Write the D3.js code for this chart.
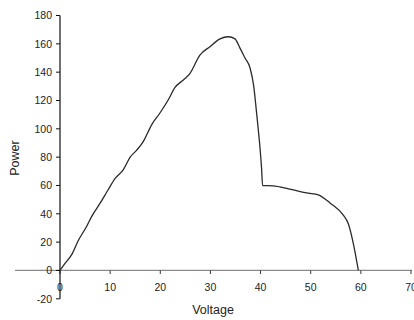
<!DOCTYPE html>
<html>
<head>
<meta charset="utf-8">
<script src="https://d3js.org/d3.v7.min.js"></script>
<style>
  body { margin: 0; background: #fff; }
  text { font-family: "Liberation Sans", Arial, sans-serif; fill: #222; }
</style>
</head>
<body>
<div class="container"></div>
<script>
// data
var voltage = [0, 1, 2.3, 3.7, 5.3, 6.3, 8, 9.6, 11, 12.6, 14, 15.3, 16.6, 18.3, 19.9,
  21.6, 22.9, 24.6, 25.9, 27.9, 29.9, 31.9, 33.6, 34.9, 35.9, 36.9, 37.9, 38.6, 39.1,
  39.5, 39.9, 40.2, 40.4, 42.5, 45.2, 47.9, 49.5, 51.5, 53.9, 56.5, 57.5, 58.5, 59.5];
var power = [0, 5, 11, 21.5, 31, 38, 47.5, 57, 65, 71, 80, 85, 91, 103, 111,
  120.5, 129, 134.5, 139, 152, 158, 163.5, 165, 163.5, 157, 150, 143, 131, 115,
  101, 86, 72, 60, 59.7, 58, 55.7, 54.6, 53.4, 47.5, 39, 33, 19, 0];

var xTicks = [0, 10, 20, 30, 40, 50, 60, 70];
var yTicks = [-20, 0, 20, 40, 60, 80, 100, 120, 140, 160, 180];

// svg container
var svgWidth = 414;
var svgHeight = 320;

var svg = d3.select(".container")
  .append("svg")
  .attr("width", svgWidth)
  .attr("height", svgHeight);

var xScale = d3.scaleLinear()
  .domain([0, 70])
  .range([60, 411]);

var yScale = d3.scaleLinear()
  .domain([-20, 180])
  .range([298.8, 15.5]);

var points = voltage.map((v, i) => ({ x: v, y: power[i] }));

// x axis sits on zero, stretched to the left like the original
var y0 = yScale(0);
svg.append("line")
  .attr("x1", 15)
  .attr("x2", 412)
  .attr("y1", y0)
  .attr("y2", y0)
  .attr("stroke", "#8a8a8a")
  .attr("stroke-width", 1.2);

svg.selectAll(".xtick")
  .data(xTicks)
  .enter()
  .append("line")
  .attr("x1", d => xScale(d))
  .attr("x2", d => xScale(d))
  .attr("y1", y0)
  .attr("y2", y0 + 3.5)
  .attr("stroke", "#333");

svg.selectAll(".xlabel")
  .data(xTicks)
  .enter()
  .append("text")
  .attr("x", d => xScale(d))
  .attr("y", y0 + 20.5)
  .attr("text-anchor", "middle")
  .attr("font-size", "10.5px")
  .text(d => d);

// y axis
svg.append("line")
  .attr("x1", 60)
  .attr("x2", 60)
  .attr("y1", yScale(180))
  .attr("y2", yScale(-20))
  .attr("stroke", "#111")
  .attr("stroke-width", 1.2);

svg.selectAll(".ytick")
  .data(yTicks)
  .enter()
  .append("line")
  .attr("x1", 56)
  .attr("x2", 60)
  .attr("y1", d => yScale(d))
  .attr("y2", d => yScale(d))
  .attr("stroke", "#111");

svg.selectAll(".ylabel")
  .data(yTicks)
  .enter()
  .append("text")
  .attr("x", 52)
  .attr("y", d => yScale(d) + 3.7)
  .attr("text-anchor", "end")
  .attr("font-size", "10.5px")
  .text(d => d);

// the curve
var line = d3.line()
  .x(d => xScale(d.x))
  .y(d => yScale(d.y))
  .curve(d3.curveMonotoneX);

svg.append("path")
  .datum(points)
  .attr("d", line)
  .attr("fill", "none")
  .attr("stroke", "#2a2a2a")
  .attr("stroke-width", 1.3);

// axis titles
svg.append("text")
  .attr("x", 213)
  .attr("y", 314)
  .attr("text-anchor", "middle")
  .attr("font-size", "12.5px")
  .text("Voltage");

svg.append("text")
  .attr("transform", "translate(19, 158) rotate(-90)")
  .attr("text-anchor", "middle")
  .attr("font-size", "12.5px")
  .text("Power");
</script>
</body>
</html>
